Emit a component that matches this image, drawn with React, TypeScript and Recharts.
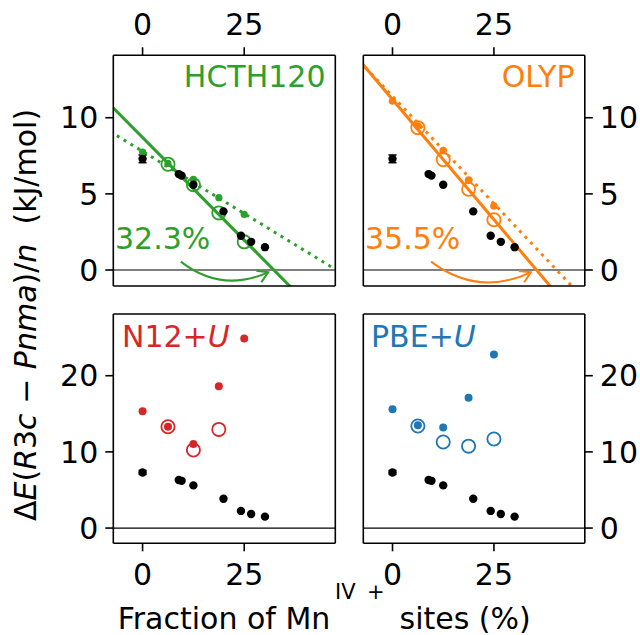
import React from 'react';
import { ComposedChart, Scatter, XAxis, YAxis, ReferenceLine, ErrorBar } from 'recharts';

// ---------- data ----------
const refX = [0, 8.9, 9.6, 12.5, 19.9, 24.2, 26.7, 30.1];
const refY = [7.3, 6.3, 6.2, 5.6, 3.85, 2.25, 1.85, 1.5];
const refErr = [0.25, 0, 0, 0, 0, 0, 0, 0];

const filledX = [0, 6.25, 12.5, 18.75, 25];
const openX = [6.25, 12.5, 18.75, 25];
const n12OpenX = [6.25, 12.5, 18.75];

const hcthFilled = [7.75, 7.0, 5.95, 4.75, 3.65];
const hcthOpen = [6.95, 5.6, 3.75, 1.85];
const olypFilled = [11.1, 9.45, 7.85, 5.9, 4.2];
const olypOpen = [9.35, 7.25, 5.3, 3.3];
const n12Filled = [15.35, 13.3, 11.05, 18.6, 24.9];
const n12Open = [13.3, 10.25, 12.95];
const pbeFilled = [15.6, 13.5, 13.2, 17.1, 22.8];
const pbeOpen = [13.4, 11.3, 10.75, 11.7];

// fit lines (end points)
const hcthSolidX = [-8, 40];
const hcthSolidY = [10.86, -2.08];
const hcthDotX = [-8, 50];
const hcthDotY = [9.1, -0.38];
const olypSolidX = [-8, 40];
const olypSolidY = [13.72, -1.42];
const olypDotX = [-8, 45];
const olypDotY = [13.67, -1.28];

// arrows
const hcthArrowX = [9.4, 30.9];
const hcthArrowY = [0.55, -0.15];
const olypArrowX = [9.5, 34.1];
const olypArrowY = [0.55, -0.15];

const xTicks = [0, 25];
const topYTicks = [0, 5, 10];
const botYTicks = [0, 10, 20];
const X_DOMAIN = [-7.2, 47.4];
const TOP_Y_DOMAIN = [-1.05, 14.1];
const BOT_Y_DOMAIN = [-2.0, 28.1];

// ---------- style ----------
const FONT = '"DejaVu Sans", sans-serif';
const GREEN = '#2ca02c';
const ORANGE = '#ff7f0e';
const RED = '#d62728';
const BLUE = '#1f77b4';
const W = 640;
const H = 635;
const AX = 30;

const pts = (xs: number[], ys: number[], es?: number[]) =>
  xs.map((x, i) => ({ x, y: ys[i], e: es ? es[i] : 0 }));
const seg = (xs: number[], ys: number[]) => [
  { x: xs[0], y: ys[0] },
  { x: xs[1], y: ys[1] },
];

const filledShape = (color: string, r: number) => (p: any) => (
  <circle cx={p.cx} cy={p.cy} r={r} fill={color} stroke="none" />
);
const openShape = (color: string) => (p: any) => (
  <circle cx={p.cx} cy={p.cy} r={6.6} fill="none" stroke={color} strokeWidth={1.8} />
);
const hiddenShape = () => <g />;

const arrowShape = (color: string) => (p: any) => {
  const { x1, y1, x2, y2 } = p;
  const dx = x2 - x1;
  const dy = y2 - y1;
  const cx = (x1 + x2) / 2 - 0.3 * dy;
  const cy = (y1 + y2) / 2 + 0.3 * dx;
  const tx = x2 - cx;
  const ty = y2 - cy;
  const len = Math.hypot(tx, ty) || 1;
  const bx = -tx / len;
  const by = -ty / len;
  const L = 12;
  const a = 0.55;
  const h1x = x2 + L * (bx * Math.cos(a) - by * Math.sin(a));
  const h1y = y2 + L * (bx * Math.sin(a) + by * Math.cos(a));
  const h2x = x2 + L * (bx * Math.cos(-a) - by * Math.sin(-a));
  const h2y = y2 + L * (bx * Math.sin(-a) + by * Math.cos(-a));
  return (
    <g>
      <path d={`M${x1},${y1} Q${cx},${cy} ${x2},${y2}`} fill="none" stroke={color} strokeWidth={2} />
      <path d={`M${h1x},${h1y} L${x2},${y2} L${h2x},${h2y}`} fill="none" stroke={color} strokeWidth={2} />
    </g>
  );
};

type PanelProps = {
  L: number;
  T: number;
  R: number;
  B: number;
  yDomain: number[];
  yTicks: number[];
  xLabelsTop: boolean;
  yLabelsLeft: boolean;
  children: React.ReactNode;
};

function Panel({ L, T, R, B, yDomain, yTicks, xLabelsTop, yLabelsLeft, children }: PanelProps) {
  const margin = { left: L - AX, right: W - R - AX, top: T - AX, bottom: H - B - AX };
  const tickStyle = { fill: '#000', fontSize: 30, fontFamily: FONT };
  const line = { stroke: '#000', strokeWidth: 1.6 };
  return (
    <div style={{ position: 'absolute', left: 0, top: 0 }}>
      <ComposedChart width={W} height={H} margin={margin}>
        <XAxis
          dataKey="x"
          type="number"
          domain={X_DOMAIN}
          ticks={xTicks}
          allowDataOverflow
          orientation="bottom"
          height={AX}
          axisLine={line}
          tickLine={line}
          tickSize={8}
          tickMargin={12}
          interval={0}
          tick={xLabelsTop ? false : tickStyle}
        />
        <XAxis
          xAxisId="top"
          dataKey="x"
          type="number"
          domain={X_DOMAIN}
          ticks={xTicks}
          allowDataOverflow
          orientation="top"
          height={AX}
          axisLine={line}
          tickLine={line}
          tickSize={8}
          tickMargin={12}
          interval={0}
          tick={xLabelsTop ? tickStyle : false}
        />
        <YAxis
          dataKey="y"
          type="number"
          domain={yDomain}
          ticks={yTicks}
          allowDataOverflow
          orientation="left"
          width={AX}
          axisLine={line}
          tickLine={line}
          tickSize={8}
          tickMargin={7}
          interval={0}
          tick={yLabelsLeft ? tickStyle : false}
        />
        <YAxis
          yAxisId="right"
          dataKey="y"
          type="number"
          domain={yDomain}
          ticks={yTicks}
          allowDataOverflow
          orientation="right"
          width={AX}
          axisLine={line}
          tickLine={line}
          tickSize={8}
          tickMargin={7}
          interval={0}
          tick={yLabelsLeft ? false : tickStyle}
        />
        <Scatter
          xAxisId="top"
          yAxisId="right"
          data={pts(refX, refY)}
          shape={hiddenShape}
          isAnimationActive={false}
        />
        <ReferenceLine y={0} stroke="#000" strokeWidth={1.2} />
        {children}
      </ComposedChart>
    </div>
  );
}

const refSeries = (key: string) => (
  <Scatter
    key={key}
    data={pts(refX, refY, refErr)}
    shape={filledShape('#000', 4.2)}
    isAnimationActive={false}
  >
    <ErrorBar dataKey="e" direction="y" width={4} stroke="#000" strokeWidth={1.6} isAnimationActive={false} />
  </Scatter>
);

export default function App() {
  return (
    <div style={{ position: 'absolute', left: 0, top: 0, width: W, height: H, background: '#fff', fontFamily: FONT }}>
      {/* HCTH120 */}
      <Panel L={113.3} T={55.3} R={335.3} B={286} yDomain={TOP_Y_DOMAIN} yTicks={topYTicks} xLabelsTop yLabelsLeft>
        {[
          <ReferenceLine key="d" segment={seg(hcthDotX, hcthDotY)} stroke={GREEN} strokeWidth={3} strokeDasharray="3 5" ifOverflow="hidden" />,
          <ReferenceLine key="s" segment={seg(hcthSolidX, hcthSolidY)} stroke={GREEN} strokeWidth={3} ifOverflow="hidden" />,
          <ReferenceLine key="a" segment={seg(hcthArrowX, hcthArrowY)} stroke={GREEN} shape={arrowShape(GREEN)} ifOverflow="visible" />,
          <Scatter key="f" data={pts(filledX, hcthFilled)} shape={filledShape(GREEN, 3.6)} isAnimationActive={false} />,
          <Scatter key="o" data={pts(openX, hcthOpen)} shape={openShape(GREEN)} isAnimationActive={false} />,
          refSeries('r'),
        ]}
      </Panel>
      {/* OLYP */}
      <Panel L={363.3} T={55.3} R={584.8} B={286} yDomain={TOP_Y_DOMAIN} yTicks={topYTicks} xLabelsTop yLabelsLeft={false}>
        {[
          <ReferenceLine key="d" segment={seg(olypDotX, olypDotY)} stroke={ORANGE} strokeWidth={3} strokeDasharray="3 5" ifOverflow="hidden" />,
          <ReferenceLine key="s" segment={seg(olypSolidX, olypSolidY)} stroke={ORANGE} strokeWidth={3} ifOverflow="hidden" />,
          <ReferenceLine key="a" segment={seg(olypArrowX, olypArrowY)} stroke={ORANGE} shape={arrowShape(ORANGE)} ifOverflow="visible" />,
          <Scatter key="f" data={pts(filledX, olypFilled)} shape={filledShape(ORANGE, 3.8)} isAnimationActive={false} />,
          <Scatter key="o" data={pts(openX, olypOpen)} shape={openShape(ORANGE)} isAnimationActive={false} />,
          refSeries('r'),
        ]}
      </Panel>
      {/* N12+U */}
      <Panel L={113.3} T={314} R={335.3} B={543.3} yDomain={BOT_Y_DOMAIN} yTicks={botYTicks} xLabelsTop={false} yLabelsLeft>
        {[
          <Scatter key="f" data={pts(filledX, n12Filled)} shape={filledShape(RED, 4)} isAnimationActive={false} />,
          <Scatter key="o" data={pts(n12OpenX, n12Open)} shape={openShape(RED)} isAnimationActive={false} />,
          refSeries('r'),
        ]}
      </Panel>
      {/* PBE+U */}
      <Panel L={363.3} T={314} R={584.8} B={543.3} yDomain={BOT_Y_DOMAIN} yTicks={botYTicks} xLabelsTop={false} yLabelsLeft={false}>
        {[
          <Scatter key="f" data={pts(filledX, pbeFilled)} shape={filledShape(BLUE, 4)} isAnimationActive={false} />,
          <Scatter key="o" data={pts(openX, pbeOpen)} shape={openShape(BLUE)} isAnimationActive={false} />,
          refSeries('r'),
        ]}
      </Panel>

      <svg width={W} height={H} style={{ position: 'absolute', left: 0, top: 0, pointerEvents: 'none', fontFamily: FONT }}>
        <text x={325.5} y={86.7} fontSize={30} fill={GREEN} textAnchor="end">HCTH120</text>
        <text x={574.5} y={86.7} fontSize={30} fill={ORANGE} textAnchor="end">OLYP</text>
        <text x={115} y={249.3} fontSize={30} fill={GREEN}>32.3%</text>
        <text x={365} y={249.3} fontSize={30} fill={ORANGE}>35.5%</text>
        <text x={122} y={347.3} fontSize={30} fill={RED}>
          N12+<tspan fontStyle="italic">U</tspan>
        </text>
        <text x={371} y={347.3} fontSize={30} fill={BLUE}>
          PBE+<tspan fontStyle="italic">U</tspan>
        </text>
        <text
          transform="rotate(-90)"
          x={-315}
          y={36}
          fontSize={30}
          fill="#000"
          textAnchor="middle"
          style={{ whiteSpace: 'pre' }}
        >
          <tspan>Δ</tspan>
          <tspan fontStyle="italic">E</tspan>
          <tspan>(</tspan>
          <tspan fontStyle="italic">R</tspan>
          <tspan>3</tspan>
          <tspan fontStyle="italic">c</tspan>
          <tspan>{' − '}</tspan>
          <tspan fontStyle="italic">Pnma</tspan>
          <tspan>)/</tspan>
          <tspan fontStyle="italic">n</tspan>
          <tspan>{'  (kJ/mol)'}</tspan>
        </text>
        <text x={117.7} y={629} fontSize={30} fill="#000">Fraction of Mn</text>
        <text x={335} y={599} fontSize={21} fill="#000">IV</text>
        <text x={367} y={599} fontSize={21} fill="#000">+</text>
        <text x={399.5} y={629} fontSize={30} fill="#000">sites (%)</text>
      </svg>
    </div>
  );
}
